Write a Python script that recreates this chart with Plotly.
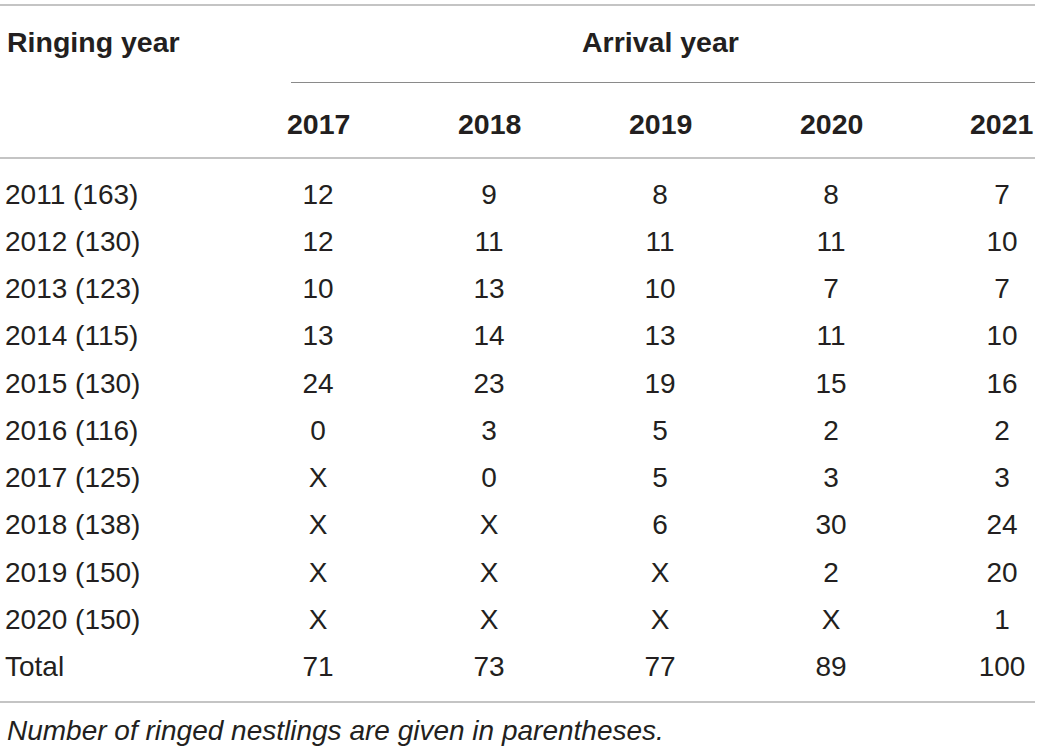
import plotly.graph_objects as go

# ── Data ──────────────────────────────────────────────────────────────────────

ringing_years = ["2011 (163)", "2012 (130)", "2013 (123)", "2014 (115)", "2015 (130)",
                 "2016 (116)", "2017 (125)", "2018 (138)", "2019 (150)", "2020 (150)",
                 "Total"]
arrival_years = ["2017", "2018", "2019", "2020", "2021"]

arrived_2017 = ["12", "12", "10", "13", "24", "0", "X", "X", "X", "X", "71"]
arrived_2018 = ["9", "11", "13", "14", "23", "3", "0", "X", "X", "X", "73"]
arrived_2019 = ["8", "11", "10", "13", "19", "5", "5", "6", "X", "X", "77"]
arrived_2020 = ["8", "11", "7", "11", "15", "2", "3", "30", "2", "X", "89"]
arrived_2021 = ["7", "10", "7", "10", "16", "2", "3", "24", "20", "1", "100"]

columns = [arrived_2017, arrived_2018, arrived_2019, arrived_2020, arrived_2021]

row_header = "Ringing year"
span_header = "Arrival year"
footnote = "Number of ringed nestlings are given in parentheses."

# ── Layout geometry (pixels) ──────────────────────────────────────────────────

W, H = 1040, 751
col_px0, col_pitch = 318, 171       # centre of the first year column, spacing
row_px0, row_pitch = 196.5, 47.25   # centre of the first body row, spacing


def px_x(p):
    return (p - col_px0) / col_pitch


def px_y(p):
    return (p - row_px0) / row_pitch


FONT = "Liberation Sans, Arial, Helvetica, sans-serif"
INK = "#231f20"
RULE = "#8a8a8a"
SIZE = 28
BOLD = 28.5

fig = go.Figure()

rows = list(range(len(ringing_years)))

# row labels
fig.add_trace(go.Scatter(
    x=[px_x(5)] * len(rows), y=rows, text=ringing_years,
    mode="text", textposition="middle right", cliponaxis=False,
    textfont=dict(family=FONT, size=SIZE, color=INK),
    hoverinfo="skip", showlegend=False,
))

# body cells
for j, col in enumerate(columns):
    fig.add_trace(go.Scatter(
        x=[j] * len(col), y=rows, text=col,
        mode="text", textposition="middle center", cliponaxis=False,
        textfont=dict(family=FONT, size=SIZE, color=INK),
        hoverinfo="skip", showlegend=False,
    ))

annotations = []

# header rows
annotations.append(dict(
    x=px_x(5), y=px_y(41.5), text=f"<b>{row_header}</b>", xanchor="left",
    yanchor="middle", showarrow=False, font=dict(family=FONT, size=BOLD, color=INK),
))
annotations.append(dict(
    x=(len(arrival_years) - 1) / 2, y=px_y(41.5), text=f"<b>{span_header}</b>",
    xanchor="center", yanchor="middle", showarrow=False,
    font=dict(family=FONT, size=BOLD, color=INK),
))
for j, yr in enumerate(arrival_years):
    annotations.append(dict(
        x=j, y=px_y(124), text=f"<b>{yr}</b>", xanchor="center", yanchor="middle",
        showarrow=False, font=dict(family=FONT, size=BOLD, color=INK),
    ))

# footnote
annotations.append(dict(
    x=px_x(5), y=px_y(730), text=f"<i>{footnote}</i>", xanchor="left",
    yanchor="middle", showarrow=False, font=dict(family=FONT, size=28, color=INK),
))

# horizontal rules
rules = [(0, 1035, 5), (291, 1035, 82.5), (0, 1035, 158), (0, 1035, 702)]
shapes = [dict(type="line", xref="x", yref="y",
               x0=px_x(a), x1=px_x(b), y0=px_y(y), y1=px_y(y),
               line=dict(color=RULE, width=1.2))
          for a, b, y in rules]

fig.update_layout(
    width=W, height=H,
    margin=dict(l=0, r=0, t=0, b=0),
    paper_bgcolor="white", plot_bgcolor="white",
    xaxis=dict(range=[px_x(0), px_x(W)], visible=False, fixedrange=True),
    yaxis=dict(range=[px_y(H), px_y(0)], visible=False, fixedrange=True),
    annotations=annotations,
    shapes=shapes,
)

# drop the page's default body margin so the figure fills the window
fig.write_html("out.html", config={"displayModeBar": False},
               post_script="document.body.style.margin = '0';")
